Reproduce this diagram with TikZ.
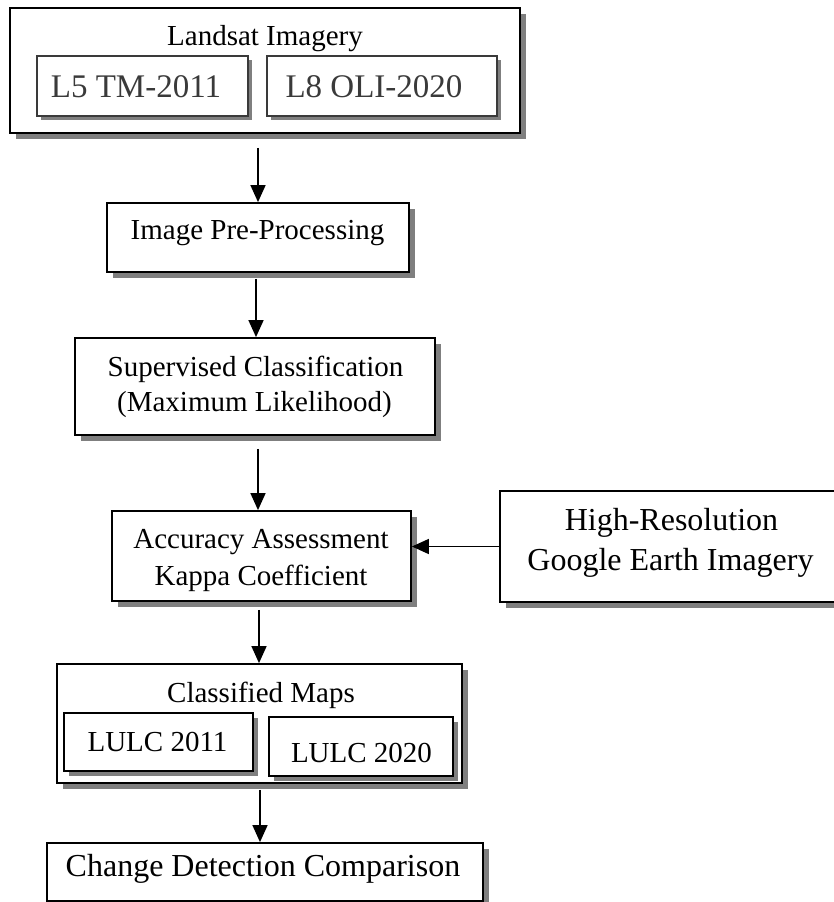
\documentclass[tikz,border=0pt]{standalone}
\usepackage{fontspec}
\setmainfont{Liberation Serif}
\usetikzlibrary{arrows.meta,shadows}

\definecolor{shadowgray}{HTML}{7F7F7F}
\definecolor{innerink}{HTML}{3A3A3A}

\tikzset{
  box/.style={draw=black, line width=1.8pt, fill=white, inner sep=0pt,
    general shadow={fill=shadowgray, shadow xshift=6pt, shadow yshift=-6pt}},
  subbox/.style={draw=black, line width=1.6pt, fill=white, inner sep=0pt,
    general shadow={fill=shadowgray, shadow xshift=5pt, shadow yshift=-5pt}},
  satbox/.style={draw=innerink, line width=1.4pt, fill=white, inner sep=0pt,
    general shadow={fill=shadowgray, shadow xshift=4pt, shadow yshift=-4pt}},
  lbl/.style={anchor=base, inner sep=0pt, font=\fontsize{29}{35}\selectfont},
  biglbl/.style={anchor=base, inner sep=0pt, font=\fontsize{32}{38}\selectfont},
  satlbl/.style={anchor=base, inner sep=0pt, text=innerink, font=\fontsize{33}{40}\selectfont},
  arr/.style={line width=1.5pt, -{Triangle[length=17pt,width=15pt]}},
}

\begin{document}
\begin{tikzpicture}[x=1pt, y=-1pt]
  \useasboundingbox (0,0) rectangle (834,902);

  % Landsat imagery group
  \node[box, minimum width=510pt, minimum height=125pt] (land) at (265,70.5) {};
  \node[lbl] (landtitle) at (265,45) {Landsat Imagery};
  \node[satbox, minimum width=211pt, minimum height=60pt] (l5) at (142.5,86) {};
  \node[satlbl] (l5t) at (136,97) {L5 TM-2011};
  \node[satbox, minimum width=230pt, minimum height=60pt] (l8) at (382,86) {};
  \node[satlbl] (l8t) at (374,97) {L8 OLI-2020};

  % Processing chain
  \node[box, minimum width=302pt, minimum height=69pt] (pre) at (258,237.5) {};
  \node[lbl] (pret) at (257.5,239) {Image Pre-Processing};

  \node[box, minimum width=360pt, minimum height=97pt] (sup) at (255,386.5) {};
  \node[lbl] (supa) at (255.5,376) {Supervised Classification};
  \node[lbl] (supb) at (254.5,411) {(Maximum Likelihood)};

  \node[box, minimum width=299pt, minimum height=90pt] (acc) at (261.5,556) {};
  \node[lbl] (acca) at (261,548) {Accuracy Assessment};
  \node[lbl] (accb) at (261,585) {Kappa Coefficient};

  \node[box, minimum width=340pt, minimum height=111pt] (hr) at (670,546.5) {};
  \node[biglbl] (hra) at (671.5,530) {High-Resolution};
  \node[biglbl] (hrb) at (670.5,570) {Google Earth Imagery};

  % Classified maps group
  \node[box, minimum width=405pt, minimum height=119pt] (cls) at (259.5,723.5) {};
  \node[lbl] (clstitle) at (261,702) {Classified Maps};
  \node[subbox, minimum width=189pt, minimum height=58pt] (lu11) at (158.5,742) {};
  \node[lbl] (lu11t) at (157.5,751) {LULC 2011};
  \node[subbox, minimum width=184pt, minimum height=59pt] (lu20) at (361,746.5) {};
  \node[lbl] (lu20t) at (361.5,762) {LULC 2020};

  \node[box, minimum width=436pt, minimum height=58pt] (chg) at (265,872) {};
  \node[biglbl] (chgt) at (263,876) {Change Detection Comparison};

  % Connectors
  \draw[arr, shorten <=14pt] (land.south -| pre.north) -- (pre.north);
  \draw[arr, shorten <=6pt] ([xshift=-2pt]pre.south) -- ([xshift=-2pt]pre.south |- sup.north);
  \draw[arr, shorten <=13pt] ([xshift=3pt]sup.south) -- ([xshift=3pt]sup.south |- acc.north);
  \draw[arr, shorten <=8pt] ([xshift=-2.5pt]acc.south) -- ([xshift=-2.5pt]acc.south |- cls.north);
  \draw[arr, shorten <=6pt] ([xshift=0.5pt]cls.south) -- ([xshift=0.5pt]cls.south |- chg.north);
  \draw[arr] (hr.west) -- (hr.west -| acc.east);
\end{tikzpicture}
\end{document}
